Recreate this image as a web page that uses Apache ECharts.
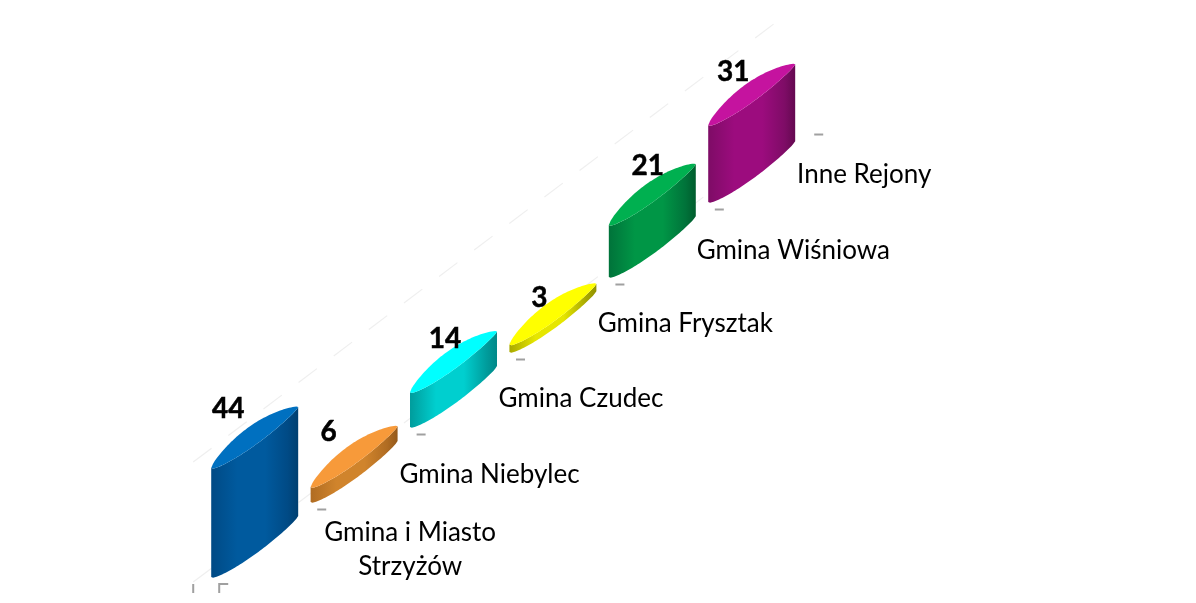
<!DOCTYPE html>
<html><head><meta charset="utf-8">
<style>html,body{margin:0;padding:0;background:#fff}#c{width:1196px;height:603px}</style>
<script src="https://cdn.jsdelivr.net/npm/echarts@6/dist/echarts.min.js"></script>
</head><body><div id="c"></div>
<script>
const categories = ['Gmina i Miasto\nStrzyżów','Gmina Niebylec','Gmina Czudec','Gmina Frysztak','Gmina Wiśniowa','Inne Rejony'];
const values = [44,6,14,3,21,31];
const topColors = ['#0070c0','#f79a3a','#00ffff','#ffff00','#00b050','#c5139f'];
const sideEdge = ['#004a85','#b06c22','#009c9c','#a8a800','#00733a','#7e0c66'];
const sideMid = ['#005a9e','#d0842c','#00cfcf','#e6e600','#009646','#9c0c7e'];
const sideDark = ['#003f70','#94591b','#008888','#929200','#005c2d','#640950'];
// label placement relative to each bar (layout, not data)
const valueOffsets = [[17,-59],[18,-55],[35,-53],[30,-47],[39,-59],[25,-53]];
const nameOffsets = [[112,-27],[92,-27],[84,-28],[89,-28],[97.5,-26],[69,-27]];
const skew = 0.7545, rise = 0.70, widthRatio = 0.875;
const upperBulge = 14.5, lowerBulge = 8, steps = 48;

function arc(x, y, w, bulge, pow, warp, reverse) {
  const pts = [];
  for (let k = 0; k <= steps; k++) {
    const t = (reverse ? steps - k : k) / steps;
    pts.push([x + w * t, y - w * rise * t + bulge * Math.pow(Math.sin(Math.PI * Math.pow(t, warp)), pow)]);
  }
  return pts;
}
const chart = echarts.init(document.getElementById('c'), null, {renderer:'canvas'});
function xOrigin(api){ return api.coord([0,0])[0]; }
function faint(a,b){ return {type:'line',silent:true,shape:{x1:a[0],y1:a[1],x2:b[0],y2:b[1]},
  style:{stroke:'#efefef',lineWidth:1.2,lineDash:[23,21]}}; }

chart.setOption({
  animation:false,
  backgroundColor:'#fff',
  grid:{left:205,width:596.4,top:428.2,height:148.8,containLabel:false},
  xAxis:{type:'category',data:categories,show:false},
  yAxis:{type:'value',min:0,max:60,interval:10,show:false},
  series:[
  {type:'custom',silent:true,clip:false,z:1,data:[[0]],encode:{x:0},
   renderItem(p,api){
     const band=api.size([1,0])[0], s=api.coord([0,0]), w=band*widthRatio, left=s[0]-w/2, n=categories.length;
     const L=n*band, ch=[];
     // receding gridlines on the floor and at top of the wall
     ch.push(faint([left-18,s[1]+5],[left-18+L,s[1]+5-L*skew]));
     ch.push(faint([left-18,s[1]-115],[left-18+L,s[1]-115-L*skew]));
     // category tick stubs
     for(let i=0;i<n;i++){
       const c=api.coord([i,0]), x=c[0]-w/2+107, y=s[1]-(c[0]-s[0])*skew-68;
       ch.push({type:'line',shape:{x1:x-1,y1:y+0.5,x2:x+8,y2:y+0.5},style:{stroke:'#a0a0a0',lineWidth:2}});
     }
     ch.push({type:'polyline',shape:{points:[[left+8,s[1]+16],[left+8,s[1]+7],[left+17,s[1]+7]]},style:{stroke:'#a0a0a0',lineWidth:2,fill:null}});
     ch.push({type:'line',shape:{x1:left-18,y1:s[1]+7,x2:left-18,y2:s[1]+16},style:{stroke:'#a0a0a0',lineWidth:2}});
     return {type:'group',children:ch};
   }},
  {type:'custom',z:2,clip:false,
   data:values.map((v,i)=>[i,v]),encode:{x:0,y:1},
   renderItem(p,api){
     const i=api.value(0), v=api.value(1), c=api.coord([i,v]), b=api.coord([i,0]);
     const band=api.size([1,0])[0], w=band*widthRatio;
     const shift=(b[0]-xOrigin(api))*skew;
     const x=b[0]-w/2, y0=b[1]-shift, y1=c[1]-shift;
     const bottom=arc(x,y0,w,lowerBulge,0.6,0.9,false);
     const front=arc(x,y1,w,lowerBulge,0.6,0.9,true);
     const upper=arc(x,y1,w,-upperBulge,0.75,0.85,false);
     return {type:'group',children:[
       {type:'polygon',shape:{points:bottom.concat(front)},style:{fill:new echarts.graphic.LinearGradient(0,0,1,0,[
         {offset:0,color:sideEdge[i]},{offset:0.3,color:sideMid[i]},{offset:0.62,color:sideMid[i]},{offset:0.88,color:sideEdge[i]},{offset:1,color:sideDark[i]}])}},
       {type:'polygon',shape:{points:upper.concat(front)},style:{fill:topColors[i]}},
       {type:'text',style:{x:x+valueOffsets[i][0],y:y1+valueOffsets[i][1],text:String(v),align:'center',verticalAlign:'middle',
         font:'bold 28px Lato, "Open Sans", sans-serif',fill:'#000',stroke:'#000',lineWidth:0.5}},
       {type:'text',style:{x:x+w+nameOffsets[i][0],y:y0+nameOffsets[i][1],text:categories[i],align:'center',verticalAlign:'middle',lineHeight:34,
         font:'26px Lato, "Open Sans", sans-serif',fill:'#000'}}
     ]};
   }}
  ]
});
</script></body></html>
